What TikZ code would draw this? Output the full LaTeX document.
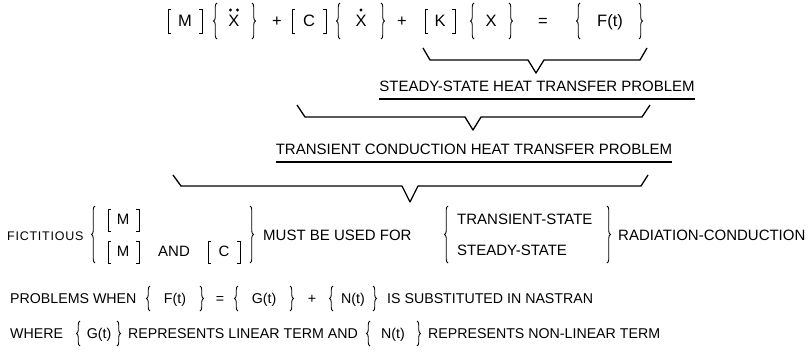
\documentclass[tikz,border=0pt]{standalone}
\usepackage{fontspec}
\setmainfont{Liberation Sans}
\usetikzlibrary{decorations.pathreplacing}
\newcommand\mylsq[3]{\draw[sqb] (#1+3,#2) -- (#1,#2) -- (#1,#3) -- (#1+3,#3);}
\newcommand\myrsq[3]{\draw[sqb] (#1-3,#2) -- (#1,#2) -- (#1,#3) -- (#1-3,#3);}
\newcommand\mylbr[3]{\draw[brc] (#1,#3) -- (#1,#2);}
\newcommand\myrbr[3]{\draw[brc] (#1,#2) -- (#1,#3);}
\begin{document}
\begin{tikzpicture}[x=1pt,y=-1pt,
  txt/.style={inner sep=0pt, anchor=base west, font=\fontsize{15}{17}\selectfont},
  bot/.style={inner sep=0pt, anchor=base west, font=\fontsize{14.2}{16}\selectfont},
  sym/.style={inner sep=0pt, anchor=base, font=\fontsize{14.2}{16}\selectfont},
  eqt/.style={inner sep=0pt, anchor=base, font=\fontsize{16.5}{18}\selectfont},
  brc/.style={line width=0.9pt, decorate, decoration={brace, amplitude=3.5pt}},
  sqb/.style={line width=0.9pt},
  ub/.style={line width=1.3pt, line join=round},
  ul/.style={line width=1.2pt}]
\useasboundingbox (0,0) rectangle (812,356);

% ---- row 1: equation
\mylsq{168}{9}{33} \node[eqt] (eM) at (185,27) {M}; \myrsq{202}{9}{33}
\mylbr{217}{3}{39} \node[eqt] (eXdd) at (234,27) {X}; \myrbr{252}{3}{39}
\fill (230.5,10) circle[radius=1.6pt]; \fill (237.5,10) circle[radius=1.6pt];
\node[eqt] (ep1) at (277,27) {+};
\mylsq{292}{9}{33} \node[eqt] (eC) at (309,27) {C}; \myrsq{326}{9}{33}
\mylbr{340}{3}{39} \node[eqt] (eXd) at (361,27) {X}; \myrbr{381}{3}{39}
\fill (361,10) circle[radius=1.6pt];
\node[eqt] (ep2) at (402,27) {+};
\mylsq{425}{9}{33} \node[eqt] (eK) at (440,27) {K}; \myrsq{455}{9}{33}
\mylbr{474}{3}{39} \node[eqt] (eX) at (491,27) {X}; \myrbr{509}{3}{39}
\node[eqt] (eeq) at (543,27) {=};
\mylbr{580}{3}{39} \node[eqt] (eF) at (610,27) {F(t)}; \myrbr{639}{3}{39}

% ---- under-brackets
\draw[ub] (423,48) -- (430,60) -- (528,60) -- (536,73) -- (544,60) -- (640,60) -- (647,48);
\node[txt, anchor=base] (st) at (537,91) {STEADY-STATE HEAT TRANSFER PROBLEM};
\draw[ul] ([yshift=-8pt]st.base west) -- ([yshift=-8pt]st.base east);

\draw[ub] (297,105) -- (305,117) -- (465,117) -- (473,130) -- (481,117) -- (642,117) -- (650,105);
\node[txt, anchor=base] (tr) at (474,154) {TRANSIENT CONDUCTION HEAT TRANSFER PROBLEM};
\draw[ul] ([yshift=-8pt]tr.base west) -- ([yshift=-8pt]tr.base east);

\draw[ub] (173,175) -- (181,186) -- (402,186) -- (410,202) -- (418,186) -- (641,186) -- (648,175);

% ---- FICTITIOUS row
\node[txt, font=\fontsize{12.5}{14}\selectfont\addfontfeature{LetterSpace=6}] (fic) at (7,240) {FICTITIOUS};
\mylbr{95}{206}{263}
\mylsq{108}{209}{231} \node[txt, anchor=base] (fM1) at (123,224) {M}; \myrsq{139}{209}{231}
\mylsq{108}{241}{263} \node[txt, anchor=base] (fM2) at (123,256) {M}; \myrsq{139}{241}{263}
\node[txt, anchor=base] (fand) at (174,256) {AND};
\mylsq{208}{241}{263} \node[txt, anchor=base] (fC) at (224,256) {C}; \myrsq{240}{241}{263}
\myrbr{250}{206}{263}
\node[txt] (must) at (263,240) {MUST BE USED FOR};
\mylbr{448}{206}{263}
\node[txt] (ts) at (457,224) {TRANSIENT-STATE};
\node[txt] (ss) at (457,255) {STEADY-STATE};
\myrbr{607}{206}{263}
\node[txt] (rc) at (618,240) {RADIATION-CONDUCTION};

% ---- PROBLEMS WHEN row
\node[bot] (pw) at (10,303) {PROBLEMS WHEN};
\mylbr{150}{286}{311} \node[sym] (pF) at (175,303) {F(t)}; \myrbr{200}{286}{311}
\node[sym] (peq) at (220,303) {=};
\mylbr{238}{286}{311} \node[sym] (pG) at (264,303) {G(t)}; \myrbr{290}{286}{311}
\node[sym] (ppl) at (312,303) {+};
\mylbr{333}{286}{311} \node[sym] (pN) at (353,303) {N(t)}; \myrbr{373}{286}{311}
\node[bot] (pis) at (387,303) {IS SUBSTITUTED IN NASTRAN};

% ---- WHERE row
\node[bot] (wh) at (10,338) {WHERE};
\mylbr{80}{321}{346} \node[sym] (wG) at (99,338) {G(t)}; \myrbr{117}{321}{346}
\node[bot] (wr1) at (128,338) {REPRESENTS LINEAR TERM AND};
\mylbr{370}{321}{346} \node[sym] (wN) at (393,338) {N(t)}; \myrbr{417}{321}{346}
\node[bot] (wr2) at (428,338) {REPRESENTS NON-LINEAR TERM};
\end{tikzpicture}
\end{document}
